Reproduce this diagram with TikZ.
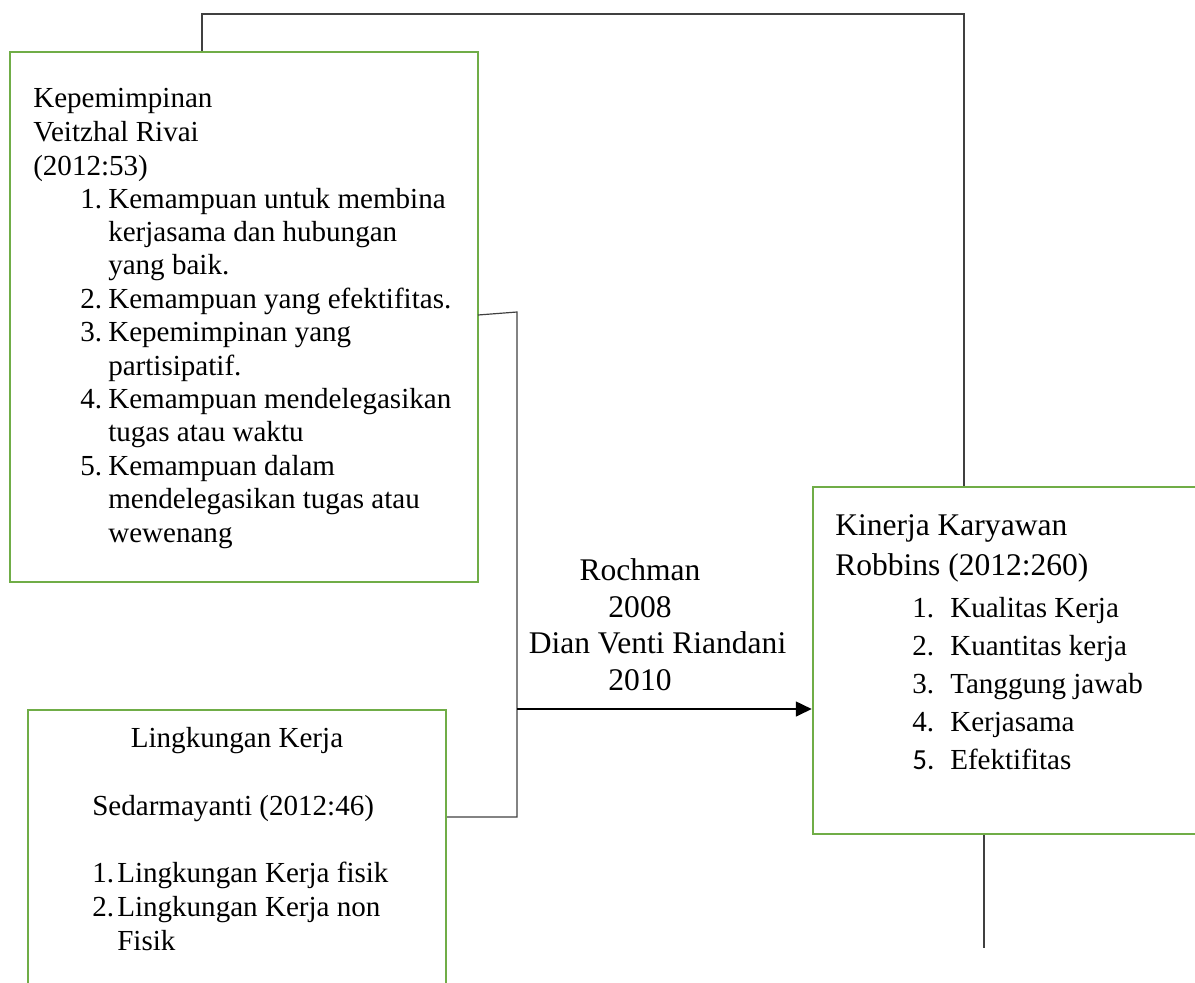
\documentclass[tikz,border=0pt]{standalone}
\usepackage{fontspec}
\setmainfont{Liberation Serif}
\newfontfamily\calib{Carlito}
\usetikzlibrary{arrows.meta}
\definecolor{boxgreen}{HTML}{70AD47}
\definecolor{linegray}{HTML}{404040}
\begin{document}
\begin{tikzpicture}[x=0.75pt,y=-0.75pt,
  box/.style={draw=boxgreen, line width=1.8pt, rectangle, inner sep=0pt},
  conn/.style={draw=linegray, line width=0.9pt},
  arr/.style={draw=black, line width=1.9pt, -{Triangle[length=12pt,width=11pt]}},
  ta/.style={anchor=base west, inner sep=0pt, font=\fontsize{21.8}{25}\selectfont},
  tb/.style={anchor=base west, inner sep=0pt, font=\fontsize{23.65}{28}\selectfont},
  tc/.style={anchor=base, inner sep=0pt, font=\fontsize{23.65}{28}\selectfont}]
\useasboundingbox (0,0) rectangle (1195,982);

% boxes
\node[box, minimum width=351pt, minimum height=397.5pt] (b1) at (244,317) {};
\node[box, minimum width=313.5pt, minimum height=217.5pt] (b2) at (237,855) {};
\node[box, minimum width=297.75pt, minimum height=260.25pt] (b3) at (1011.5,660.5) {};

% connectors
\coordinate (tl) at (202,14);
\coordinate (tr) at (964,14);
\draw[conn] (tl |- b1.north) -- (tl) -- (tr) -- (tr |- b3.north);
\coordinate (j0) at (478,315);
\coordinate (j1) at (517,312);
\coordinate (j2) at (517,817);
\draw[conn] (j0) -- (j1) -- (j2) -- (b2.east |- j2);
\coordinate (ja) at (517,709);
\draw[arr] (ja) -- (b3.west |- ja);
\coordinate (bb) at (984,948);
\draw[conn] (bb |- b3.south) -- (bb);

% box 1 text
\node[ta] (k1) at (33,107) {Kepemimpinan};
\node[ta] (k2) at (33,141) {Veitzhal Rivai};
\node[ta] (k3) at (33,175) {(2012:53)};
\node[ta] (n1) at (80,208) {1.};
\node[ta] (l1) at (108,208) {Kemampuan untuk membina};
\node[ta] (l2) at (108,241.4) {kerjasama dan hubungan};
\node[ta] (l3) at (108,274.8) {yang baik.};
\node[ta] (n2) at (80,308.2) {2.};
\node[ta] (l4) at (108,308.2) {Kemampuan yang efektifitas.};
\node[ta] (n3) at (80,341.6) {3.};
\node[ta] (l5) at (108,341.6) {Kepemimpinan yang};
\node[ta] (l6) at (108,375) {partisipatif.};
\node[ta] (n4) at (80,408.4) {4.};
\node[ta] (l7) at (108,408.4) {Kemampuan mendelegasikan};
\node[ta] (l8) at (108,441.8) {tugas atau waktu};
\node[ta] (n5) at (80,475.2) {5.};
\node[ta] (l9) at (108,475.2) {Kemampuan dalam};
\node[ta] (l10) at (108,508.6) {mendelegasikan tugas atau};
\node[ta] (l11) at (108,542) {wewenang};

% box 2 text
\node[ta, anchor=base] (m1) at (237,747) {Lingkungan Kerja};
\node[ta] (m2) at (92,815) {Sedarmayanti (2012:46)};
\node[ta] (mn1) at (92,882) {1.};
\node[ta] (m3) at (117,882) {Lingkungan Kerja fisik};
\node[ta] (mn2) at (92,916) {2.};
\node[ta] (m4) at (117,916) {Lingkungan Kerja non};
\node[ta] (m5) at (117,950) {Fisik};

% arrow labels
\node[tc] (r1) at (640,580) {Rochman};
\node[tc] (r2) at (640,617) {2008};
\node[tc] (r3) at (657.5,653) {Dian Venti Riandani};
\node[tc] (r4) at (640,690) {2010};

% box 3 text
\node[tb] (p1) at (835,535) {Kinerja Karyawan};
\node[tb] (p2) at (835,575) {Robbins (2012:260)};
\node[ta] (pn1) at (912,617) {1.};
\node[ta] (q1) at (950,617) {Kualitas Kerja};
\node[ta] (pn2) at (912,655.2) {2.};
\node[ta] (q2) at (950,655.2) {Kuantitas kerja};
\node[ta] (pn3) at (912,693.4) {3.};
\node[ta] (q3) at (950,693.4) {Tanggung jawab};
\node[ta] (pn4) at (912,731.6) {4.};
\node[ta] (q4) at (950,731.6) {Kerjasama};
\node[ta, font=\calib\fontsize{21.8}{25}\selectfont] (pn5) at (912,769.8) {5.};
\node[ta] (q5) at (950,769.8) {Efektifitas};
\end{tikzpicture}
\end{document}
